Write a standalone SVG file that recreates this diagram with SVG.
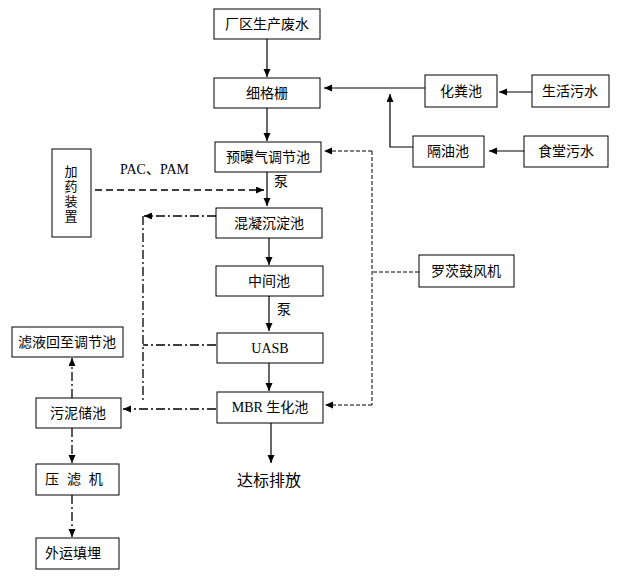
<svg xmlns="http://www.w3.org/2000/svg" width="620" height="578" viewBox="0 0 620 578">
<defs>
<marker id="ah" markerWidth="9" markerHeight="8" refX="8" refY="3.5" orient="auto" markerUnits="userSpaceOnUse">
<path d="M0,0 L8,3.5 L0,7 z" fill="#000"/>
</marker>
<style>
.box{fill:#fff;stroke:#000;stroke-width:1}
.t{font-family:"Liberation Sans","Noto Sans CJK SC",sans-serif;font-size:14px;fill:#000;text-anchor:middle}
.v{font-family:"Liberation Sans","Noto Sans CJK SC",sans-serif;font-size:13px;fill:#000;text-anchor:middle}
.s{font-family:"Liberation Serif","Noto Sans CJK SC",serif;font-size:14px;fill:#000}
.ln{fill:none;stroke:#000;stroke-width:1.2}
.dash{fill:none;stroke:#000;stroke-width:1;stroke-dasharray:4 2}
.dash2{fill:none;stroke:#000;stroke-width:1.6;stroke-dasharray:7 4}
.dd{fill:none;stroke:#000;stroke-width:1.3;stroke-dasharray:9 3 2 3}
</style>
</defs>
<rect width="620" height="578" fill="#fff"/>
<g id="connectors">
<line class="ln" x1="267" y1="39" x2="267" y2="77" marker-end="url(#ah)"/>
<line class="ln" x1="267" y1="108" x2="267" y2="141" marker-end="url(#ah)"/>
<line class="ln" x1="267" y1="172" x2="267" y2="206" marker-end="url(#ah)"/>
<line class="ln" x1="269" y1="238" x2="269" y2="265" marker-end="url(#ah)"/>
<line class="ln" x1="269" y1="296" x2="269" y2="331" marker-end="url(#ah)"/>
<line class="ln" x1="269" y1="363" x2="269" y2="391" marker-end="url(#ah)"/>
<line class="ln" x1="271" y1="423" x2="271" y2="463" marker-end="url(#ah)"/>
<line class="ln" x1="425" y1="88" x2="324" y2="88" marker-end="url(#ah)"/>
<line class="ln" x1="532" y1="92" x2="499" y2="92" marker-end="url(#ah)"/>
<polyline class="ln" points="413,147 390,147 390,94" marker-end="url(#ah)"/>
<line class="ln" x1="524" y1="151" x2="489" y2="151" marker-end="url(#ah)"/>
<polyline class="dash" points="419,272 372,272"/>
<line class="dash" x1="372" y1="151" x2="372" y2="405"/>
<line class="dash" x1="372" y1="151" x2="324" y2="151" marker-end="url(#ah)"/>
<line class="dash" x1="372" y1="405" x2="325" y2="405" marker-end="url(#ah)"/>
<line class="dash2" x1="95" y1="190" x2="264" y2="190" marker-end="url(#ah)"/>
<line class="dd" x1="216" y1="216" x2="144" y2="216" marker-end="url(#ah)"/>
<line class="dd" x1="143" y1="216" x2="143" y2="402"/>
<line class="dd" x1="216" y1="345" x2="143" y2="345"/>
<line class="dd" x1="216" y1="409" x2="123" y2="409" marker-end="url(#ah)"/>
<line class="dd" x1="72" y1="398" x2="72" y2="358" marker-end="url(#ah)"/>
<line class="dd" x1="72" y1="428" x2="72" y2="463" marker-end="url(#ah)"/>
<line class="dd" x1="72" y1="495" x2="72" y2="537" marker-end="url(#ah)"/>
</g>
<g id="n1"><rect class="box" x="214" y="9" width="106" height="30"/><text class="t" x="267" y="29">厂区生产废水</text></g>
<g id="n2"><rect class="box" x="214" y="78" width="106" height="30"/><text class="t" x="267" y="98">细格栅</text></g>
<g id="n3"><rect class="box" x="215" y="142" width="106" height="30"/><text class="t" x="268" y="162">预曝气调节池</text></g>
<g id="n4"><rect class="box" x="425" y="75" width="72" height="32"/><text class="t" x="461" y="96">化粪池</text></g>
<g id="n5"><rect class="box" x="532" y="75" width="77" height="32"/><text class="t" x="570" y="96">生活污水</text></g>
<g id="n6"><rect class="box" x="413" y="136" width="71" height="31"/><text class="t" x="448" y="156">隔油池</text></g>
<g id="n7"><rect class="box" x="524" y="136" width="84" height="31"/><text class="t" x="566" y="156">食堂污水</text></g>
<g id="n8"><rect class="box" x="52" y="149" width="39" height="88"/>
<text class="v" x="71" y="176">加</text><text class="v" x="71" y="191">药</text><text class="v" x="71" y="206">装</text><text class="v" x="71" y="221">置</text></g>
<text class="s" x="120" y="174">PAC、PAM</text>
<text class="t" x="281" y="186">泵</text>
<g id="n9"><rect class="box" x="216" y="208" width="106" height="30"/><text class="t" x="269" y="228">混凝沉淀池</text></g>
<g id="n10"><rect class="box" x="216" y="266" width="107" height="30"/><text class="t" x="269" y="286">中间池</text></g>
<text class="t" x="284" y="314">泵</text>
<g id="n11"><rect class="box" x="217" y="333" width="106" height="30"/><text class="s" x="270" y="353" text-anchor="middle">UASB</text></g>
<g id="n12"><rect class="box" x="217" y="392" width="106" height="31"/><text x="270" y="412" text-anchor="middle"><tspan class="s">MBR </tspan><tspan class="t" style="text-anchor:start">生化池</tspan></text></g>
<g id="n13"><rect class="box" x="12" y="327" width="111" height="30"/><text class="t" x="67" y="347">滤液回至调节池</text></g>
<g id="n14"><rect class="box" x="36" y="398" width="85" height="30"/><text class="t" x="78" y="418">污泥储池</text></g>
<g id="n15"><rect class="box" x="36" y="464" width="83" height="31"/><text class="t" x="45" y="484" style="text-anchor:start;word-spacing:4px">压 滤 机</text></g>
<g id="n16"><rect class="box" x="36" y="538" width="83" height="31"/><text class="t" x="45" y="558" style="text-anchor:start">外运填埋</text></g>
<g id="n17"><rect class="box" x="419" y="255" width="95" height="32"/><text class="t" x="466" y="276">罗茨鼓风机</text></g>
<text class="t" x="269" y="486" style="font-size:16px">达标排放</text>
</svg>
